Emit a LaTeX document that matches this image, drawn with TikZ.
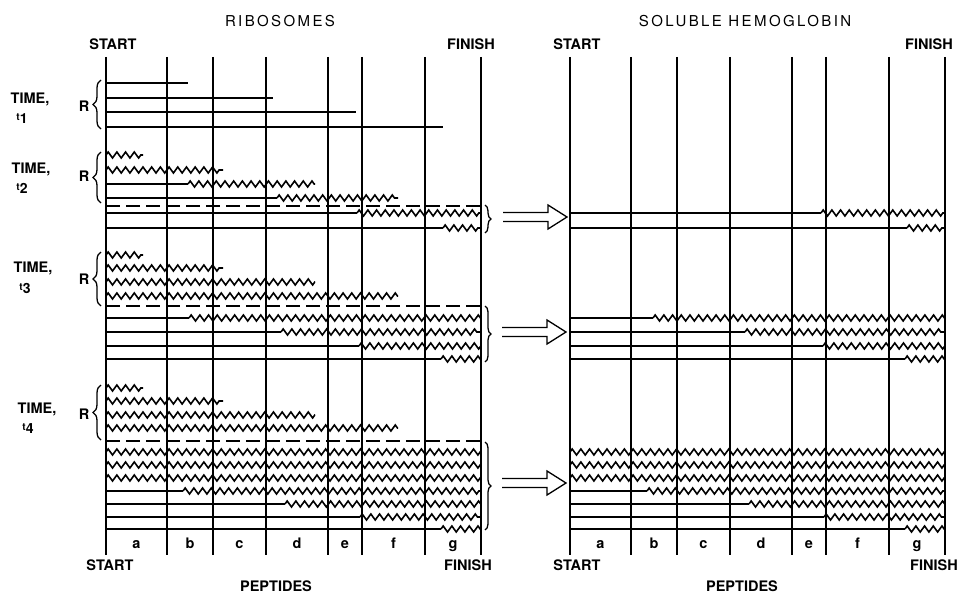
\documentclass[tikz,border=0pt]{standalone}
\usepackage{fontspec}
\setmainfont{TeX Gyre Heros}
\newfontfamily\titlefont[LetterSpace=16]{TeX Gyre Heros}
\usetikzlibrary{decorations.pathmorphing,decorations.pathreplacing}
\newcommand\tsub[1]{\raisebox{2.5pt}{\fontsize{10}{10}\selectfont t}{\fontsize{14}{14}\selectfont #1}}
\begin{document}
\begin{tikzpicture}[x=1pt,y=-1pt,
  vline/.style={line width=1.3pt},
  edgeline/.style={line width=2.6pt},
  rowline/.style={line width=1.6pt},
  wave/.style={line width=1.6pt, line join=miter, decorate,
    decoration={zigzag, segment length=8.7pt, amplitude=3pt}},
  dashline/.style={line width=1.6pt, dash pattern=on 14pt off 6pt},
  lbl/.style={font=\bfseries\fontsize{14.5}{15}\selectfont, inner sep=0pt, anchor=base},
  ttl/.style={font=\titlefont\fontsize{15}{15}\selectfont, inner sep=0pt, anchor=base},
  brleft/.style={line width=1.3pt, decorate, decoration={brace, amplitude=8pt}},
  brright/.style={line width=1.3pt, decorate, decoration={brace, amplitude=6pt}},
  harrow/.pic={\draw[line width=1.3pt, line join=miter]
     (-64,-4.5) -- (-19,-4.5) -- (-19,-12) -- (0,0) -- (-19,12) -- (-19,4.5) -- (-64,4.5);}
]
\useasboundingbox (0,0) rectangle (961,594);

% titles
\node[ttl] (ttlL) at (280,26.5) {RIBOSOMES};
\node[ttl] (ttlR) at (745,26.5) {SOLUBLE HEMOGLOBIN};
\node[lbl] (stLt) at (113,50) {START};
\node[lbl] (fiLt) at (471,50) {FINISH};
\node[lbl] (stRt) at (577,50) {START};
\node[lbl] (fiRt) at (929,50) {FINISH};
\node[lbl] (stLb) at (110,570) {START};
\node[lbl] (fiLb) at (468,570) {FINISH};
\node[lbl] (stRb) at (577,570) {START};
\node[lbl] (fiRb) at (934,570) {FINISH};
\node[lbl] (pepL) at (276,591) {PEPTIDES};
\node[lbl] (pepR) at (742,591) {PEPTIDES};

% time labels
\node[lbl] (time1) at (30,103) {TIME,};
\node[lbl] (t1) at (22,123) {\tsub{1}};
\node[lbl] (time2) at (31,173) {TIME,};
\node[lbl] (t2) at (22,193) {\tsub{2}};
\node[lbl] (time3) at (33,272) {TIME,};
\node[lbl] (t3) at (25,293) {\tsub{3}};
\node[lbl] (time4) at (37,413) {TIME,};
\node[lbl] (t4) at (28,433) {\tsub{4}};
\node[lbl] (R1) at (84,111) {R};
\node[lbl] (R2) at (84,181) {R};
\node[lbl] (R3) at (84,284) {R};
\node[lbl] (R4) at (84,419) {R};

% grid lines, both panels
\foreach \dx/\p in {0/L,464/R}{
  \foreach \x in {167,213,266,328,362,425}
    \draw[vline] (\x+\dx,57) -- (\x+\dx,555);
  \draw[edgeline] (106+\dx,57) -- (106+\dx,555);
  \draw[edgeline] (481+\dx,57) -- (481+\dx,555);
  \foreach \x/\c in {136.5/a,190/b,239.5/c,297/d,345/e,393.5/f,453/g}
    \node[lbl] (col\p\c) at (\x+\dx,548) {\c};
}

% time t1 rows
\foreach \y/\e in {83/188, 98/273, 112/356, 127/443}
  \draw[rowline] (106,\y) -- (\e,\y);

% rows on ribosomes only
\foreach \y/\s/\e in {155/106/143, 170/106/223, 184/188/315, 198/277/398,
    255/106/143, 268/106/223, 282/106/315, 296/106/398,
    388/106/143, 401/106/223, 415/106/315, 428/106/398}{
  \ifdim \s pt>106pt \draw[rowline] (106,\y) -- (\s,\y); \fi
  \draw[wave] (\s,\y) -- (\e,\y);
}

% completed rows, appearing in both panels
\foreach \dx in {0,464}{
  \foreach \y/\s in {213/357, 228/443,
      318/189, 332/281, 346/359, 359/441,
      452/106, 465/106, 478/106, 491/183, 504/285, 517/360, 529/441}{
    \ifdim \s pt>106pt \draw[rowline] (106+\dx,\y) -- (\s+\dx,\y); \fi
    \draw[wave] (\s+\dx,\y) -- (481+\dx,\y);
  }
}

% dashed separators
\foreach \y in {206,306,441}
  \draw[dashline] (106,\y) -- (481,\y);

% left braces (R)
\draw[brleft] (101,129) -- (101,80);
\draw[brleft] (101,203) -- (101,152);
\draw[brleft] (101,306) -- (101,252);
\draw[brleft] (101,440) -- (101,385);

% right braces
\draw[brright] (485,205) -- (485,233);
\draw[brright] (485,306) -- (485,362);
\draw[brright] (485,442) -- (485,530);

% hollow arrows
\coordinate (tip2) at (567,217);
\coordinate (tip3) at (566,332);
\coordinate (tip4) at (566,483);
\pic at (tip2) {harrow};
\pic at (tip3) {harrow};
\pic at (tip4) {harrow};
\end{tikzpicture}
\end{document}
